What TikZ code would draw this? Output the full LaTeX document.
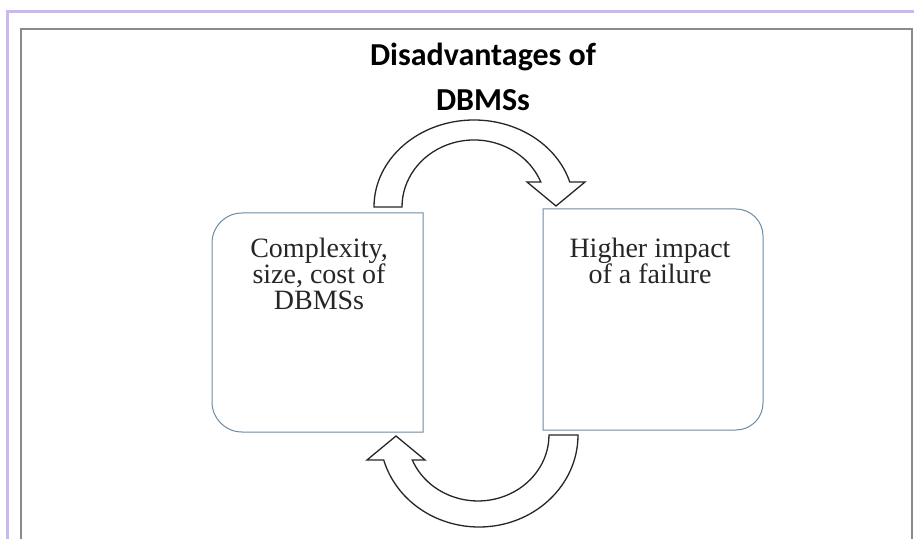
\documentclass[tikz,border=0pt]{standalone}
\usepackage{fontspec}
\setmainfont{Liberation Serif}
\newfontfamily\headfont{Carlito}
\definecolor{lavender}{HTML}{C9B8F2}
\definecolor{framegray}{HTML}{8A8A8A}
\definecolor{boxline}{HTML}{6A8CA5}
\tikzset{
  boxtext/.style={align=center, font=\fontsize{28}{26}\selectfont, text=black!85, inner sep=0pt},
  headtext/.style={font=\headfont\bfseries\fontsize{32}{32}\selectfont, inner sep=0pt},
  cyclebox/.style={draw=boxline, line width=1pt, fill=white},
  bentarrow/.style={draw=black!85, line width=1.3pt, fill=white, line join=miter}
}
\begin{document}
\begin{tikzpicture}[x=1pt, y=1pt]
  \useasboundingbox (0,0) rectangle (914,539);
  \fill[white] (0,0) rectangle (914,539);

  % page borders
  \draw[lavender, line width=3pt] (7.5,0) -- (7.5,527) -- (914,527);
  \draw[framegray, line width=1.5pt] (21,0) -- (21,510) -- (912,510) -- (912,0);

  % heading
  \node[headtext] (head1) at (483,482) {Disadvantages of};
  \node[headtext] (head2) at (483,439) {DBMSs};

  % left box, rounded on its left side
  \draw[cyclebox] (423,326) -- (242,326)
    .. controls (225.4,326) and (212,312.6) .. (212,296) -- (212,137)
    .. controls (212,120.4) and (225.4,107) .. (242,107) -- (423,107) -- cycle;
  \node[boxtext] (lefttext) at (319,265) {Complexity,\\size, cost of\\DBMSs};

  % right box, rounded on its right side
  \draw[cyclebox] (543,330) -- (736,330)
    .. controls (750.9,330) and (763,317.9) .. (763,303) -- (763,136)
    .. controls (763,121.1) and (750.9,109) .. (736,109) -- (543,109) -- cycle;
  \node[boxtext] (righttext) at (650,278) {Higher impact\\of a failure};

  % curved block arrow over the top, from left box to right box
  \draw[bentarrow] (374,332)
    arc[start angle=180, end angle=16.7, x radius=100, y radius=87]
    -- (585,357) -- (556,333) -- (527,357) -- (540.8,357)
    arc[start angle=21.9, end angle=180, x radius=72, y radius=67]
    -- cycle;

  % curved block arrow underneath, from right box back to left box
  \draw[bentarrow] (578,104)
    arc[start angle=0, end angle=-164.2, x radius=99, y radius=92]
    -- (367,79) -- (396,103) -- (425,79) -- (412.3,79)
    arc[start angle=-157.7, end angle=0, x radius=71, y radius=66]
    -- cycle;
\end{tikzpicture}
\end{document}
